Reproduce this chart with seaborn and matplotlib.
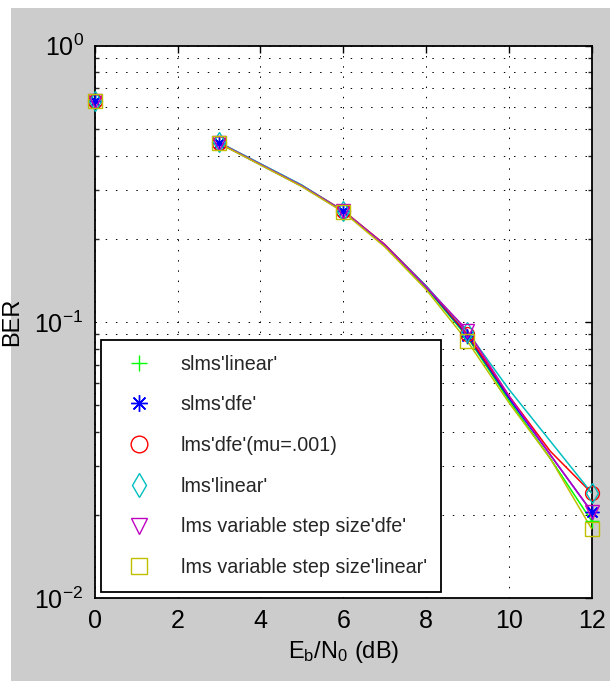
import numpy as np
import pandas as pd
import seaborn as sns
import matplotlib
matplotlib.use("Agg")
import matplotlib.pyplot as plt
from matplotlib.lines import Line2D
from matplotlib.patches import Rectangle
from matplotlib.ticker import LogLocator, NullFormatter

# Eb/N0 grid (dB); BER is only simulated at 0 dB and from 3 dB on
snr_db = [0, 1, 2, 3, 4, 5, 6, 7, 8, 9, 10, 11, 12]
nan = np.nan

ber_slms_linear = [0.63, nan, nan, 0.444, 0.372, 0.311, 0.252, 0.189, 0.133, 0.088, 0.052, 0.032, 0.0190]
ber_slms_dfe    = [0.63, nan, nan, 0.444, 0.371, 0.310, 0.251, 0.190, 0.134, 0.089, 0.053, 0.033, 0.0205]
ber_lms_dfe     = [0.63, nan, nan, 0.446, 0.373, 0.312, 0.253, 0.191, 0.135, 0.090, 0.054, 0.034, 0.0240]
ber_lms_linear  = [0.63, nan, nan, 0.447, 0.374, 0.313, 0.252, 0.190, 0.135, 0.092, 0.057, 0.037, 0.0240]
ber_vss_dfe     = [0.63, nan, nan, 0.445, 0.372, 0.311, 0.252, 0.190, 0.134, 0.093, 0.054, 0.033, 0.0205]
ber_vss_linear  = [0.63, nan, nan, 0.443, 0.370, 0.309, 0.250, 0.187, 0.131, 0.085, 0.051, 0.032, 0.0178]

series_names = ["slms'linear'", "slms'dfe'", "lms'dfe'(mu=.001)", "lms'linear'",
                "lms variable step size'dfe'", "lms variable step size'linear'"]
series_values = [ber_slms_linear, ber_slms_dfe, ber_lms_dfe, ber_lms_linear,
                 ber_vss_dfe, ber_vss_linear]
series_colors = ["#00ff00", "#0000ff", "#ff0000", "#00bfbf", "#bf00bf", "#bfbf00"]
# '*' is drawn as an eight-spoke asterisk
series_markers = ["+", (8, 2, 0), "o", "d", "v", "s"]
marker_db = [0, 3, 6, 9, 12]

x_ticks = [0, 2, 4, 6, 8, 10, 12]

sns.set_theme(style="white")
plt.rcParams["font.family"] = ["Liberation Sans", "DejaVu Sans"]
plt.rcParams["mathtext.fontset"] = "custom"
plt.rcParams["mathtext.rm"] = "Liberation Sans"
plt.rcParams["mathtext.it"] = "Liberation Sans"
plt.rcParams["mathtext.default"] = "regular"

W, H = 610, 681
fig = plt.figure(figsize=(W / 100, H / 100), dpi=100, facecolor="white")
fig.patches.append(Rectangle((11 / W, 0), 1, (H - 8) / H, transform=fig.transFigure,
                             facecolor="#cccccc", edgecolor="none", zorder=-10))

ax = fig.add_axes([94.7 / W, 1 - 598 / H, (591.7 - 94.7) / W, (598 - 45.7) / H])
ax.set_facecolor("white")

# long table for the simulated curves (3..12 dB)
rows = []
for name, vals in zip(series_names, series_values):
    for x, v in zip(snr_db, vals):
        if x >= 3:
            rows.append({"snr": x, "ber": v, "scheme": name})
df = pd.DataFrame(rows)

sns.lineplot(data=df, x="snr", y="ber", hue="scheme", hue_order=series_names,
             palette=series_colors, linewidth=1.1, legend=False, ax=ax, zorder=3)

handles = []
for name, vals, col, mk in zip(series_names, series_values, series_colors, series_markers):
    my = [vals[snr_db.index(x)] for x in marker_db]
    ax.plot(marker_db, my, linestyle="none", marker=mk, markersize=10,
            markerfacecolor="none", markeredgecolor=col, markeredgewidth=1.0,
            zorder=4, clip_on=False)
    handles.append(Line2D([], [], linestyle="none", marker=mk, markersize=12,
                          markerfacecolor="none", markeredgecolor=col,
                          markeredgewidth=1.0, label=name))

ax.set_yscale("log")
ax.set_xlim(0, 12)
ax.set_ylim(1e-2, 1)
ax.set_xticks(x_ticks)
ax.yaxis.set_major_locator(LogLocator(base=10, numticks=10))
ax.yaxis.set_minor_locator(LogLocator(base=10, subs=np.arange(2, 10), numticks=20))
ax.yaxis.set_minor_formatter(NullFormatter())

dots = (0, (1.5, 9))
ax.grid(True, which="major", axis="both", color="black", linestyle=dots, linewidth=0.7)
ax.grid(True, which="minor", axis="y", color="black", linestyle=dots, linewidth=0.7)

ax.tick_params(axis="both", which="major", direction="in", length=5, width=1,
               top=True, right=True, labelsize=18, colors="black", pad=8)
ax.tick_params(axis="y", which="minor", direction="in", length=3, width=1,
               left=True, right=True)
for s in ax.spines.values():
    s.set_color("black")
    s.set_linewidth(1.3)

ax.set_xlabel(r"$E_b/N_0$ (dB)", fontsize=17, color="black", labelpad=4)
ax.set_ylabel("BER", fontsize=17, color="black", labelpad=8)

leg = ax.legend(handles=handles, loc="lower left", bbox_to_anchor=(0.012, 0.011),
                fontsize=14.2, frameon=True, fancybox=False, edgecolor="black",
                framealpha=1, borderpad=0.75, labelspacing=1.1, handletextpad=0.9,
                handlelength=2.4, borderaxespad=0)
leg.get_frame().set_linewidth(1.3)
leg.set_zorder(10)

fig.savefig("out.png", dpi=100, facecolor=fig.get_facecolor())
